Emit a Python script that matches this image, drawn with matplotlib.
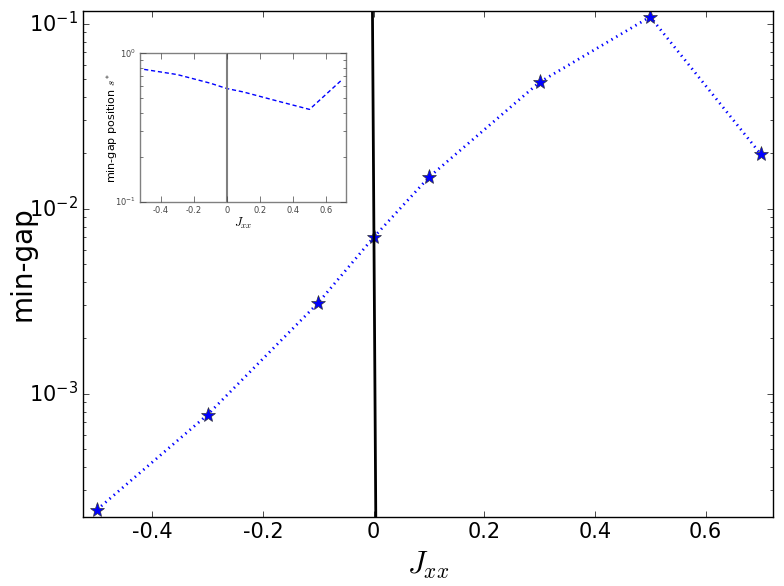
import numpy as np
import matplotlib
matplotlib.use("Agg")
import matplotlib.pyplot as plt

# data
jxx = [-0.5, -0.3, -0.1, 0.0, 0.1, 0.3, 0.5, 0.7]
min_gap = [2.36e-4, 7.7e-4, 3.1e-3, 7.0e-3, 1.48e-2, 4.83e-2, 1.09e-1, 1.97e-2]
gap_pos = [0.78, 0.72, 0.63, 0.58, 0.55, 0.48, 0.42, 0.67]

# slightly tilted black marker line near J_xx = 0
zero_x = [-0.002, 0.004]
ylims = (2.16e-4, 0.117)
xlims = (-0.525, 0.722)

plt.style.use("classic")
plt.rcParams["figure.facecolor"] = "white"
plt.rcParams["savefig.facecolor"] = "white"

fig = plt.figure(figsize=(7.84, 5.86), dpi=100)
ax = fig.add_axes([0.106, 0.118, 0.880, 0.863])

ax.plot(jxx, min_gap, ":", color="blue", linewidth=2)
ax.plot(jxx, min_gap, "*", color="blue", markeredgecolor="#333333",
        markersize=11, linestyle="none")
ax.plot(zero_x, [ylims[1], ylims[0]], "-", color="black", linewidth=2)

ax.set_yscale("log")
ax.set_xlim(xlims)
ax.set_ylim(ylims)
ax.set_xticks([-0.4, -0.2, 0, 0.2, 0.4, 0.6])
ax.set_xticklabels(["-0.4", "-0.2", "0", "0.2", "0.4", "0.6"])
ax.tick_params(labelsize=15)
ax.set_xlabel(r"$J_{xx}$", fontsize=22)
ax.set_ylabel("min-gap", fontsize=20)
ax.yaxis.set_label_coords(-0.068, 0.5)

# --- inset: position of the minimum gap ---
ins = fig.add_axes([0.1786, 0.655, 0.263, 0.254])
ins.plot(jxx, gap_pos, "--", color="blue", linewidth=1, dashes=(3, 2))
ins.axvline(0, color="gray", linewidth=1.5)
ins.set_yscale("log")
ins.set_xlim(xlims)
ins.set_ylim(0.1, 1.0)
ins.set_xticks([-0.4, -0.2, 0, 0.2, 0.4, 0.6])
ins.set_xticklabels(["-0.4", "-0.2", "0", "0.2", "0.4", "0.6"])
ins.tick_params(labelsize=6, colors="#444444", which="both", pad=3)
for sp in ins.spines.values():
    sp.set_color("gray")
ins.set_xlabel(r"$J_{xx}$", fontsize=9)
ins.set_ylabel(r"min-gap position $s^*$", fontsize=8)
ins.xaxis.set_label_coords(0.5, -0.09)
ins.yaxis.set_label_coords(-0.095, 0.5)

fig.savefig("out.png", dpi=100)
